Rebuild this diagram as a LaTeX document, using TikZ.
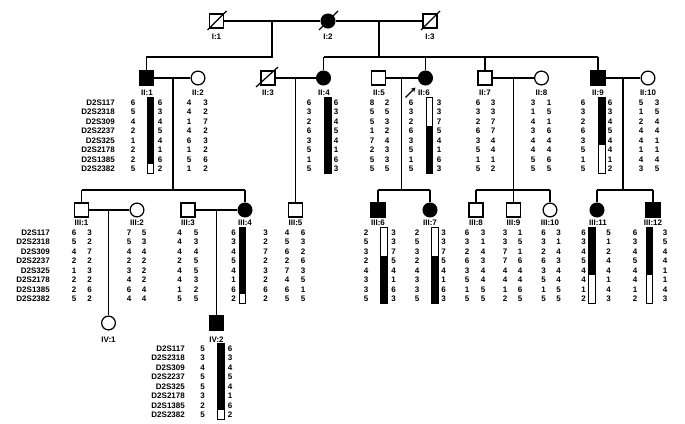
\documentclass[tikz,border=0pt]{standalone}
\usepackage{fontspec}
\setmainfont{Liberation Sans}
\usetikzlibrary{arrows.meta}
\newcommand\numcol[4]{\foreach \v [count=\i from 0] in {#4} {\node[num] at ({#1},{#2+\i*#3}) {\v};}}
\newcommand\markcol[3]{\foreach \v [count=\i from 0] in {D2S117,D2S2318,D2S309,D2S2237,D2S325,D2S2178,D2S1385,D2S2382} {\node[num,anchor=east] at ({#1},{#2+\i*#3}) {\v};}}
% black top / white bottom: x, top, bottom, split
\newcommand\barBW[4]{\fill ({#1-3.2},{#2}) rectangle ({#1+3.2},{#4}); \draw[barline] ({#1-3.2},{#2}) rectangle ({#1+3.2},{#3});}
\newcommand\barWB[4]{\fill ({#1-3.2},{#4}) rectangle ({#1+3.2},{#3}); \draw[barline] ({#1-3.2},{#2}) rectangle ({#1+3.2},{#3});}
\begin{document}
\begin{tikzpicture}[x=1pt,y=-1pt,
  every node/.style={font=\fontsize{8}{9}\selectfont\bfseries},
  sym/.style={draw,line width=1.25pt,minimum size=13.8pt,inner sep=0pt},
  sq/.style={sym,rectangle},
  ci/.style={sym,circle},
  aff/.style={fill=black},
  num/.style={inner sep=0pt},
  lab/.style={inner sep=0pt},
  lnk/.style={line width=1.25pt},
  barline/.style={line width=1pt}]
\useasboundingbox (0,0) rectangle (685,423);

% ---------- Generation I ----------
\node[sq] (I1) at (216.5,21) {};
\node[ci,aff] (I2) at (328,21) {};
\node[sq] (I3) at (430,21) {};
\draw[lnk] (I1) -- (I2);
\draw[lnk] (I2) -- (I3);
\foreach \n in {I1,I2,I3} {\draw[lnk] (\n) ++(-9,9) -- ++(19,-19);}
\node[lab] (lI1) at (216.5,37) {I:1};
\node[lab] (lI2) at (328,37) {I:2};
\node[lab] (lI3) at (430,37) {I:3};

% ---------- Generation II ----------
\node[sq,aff] (II1) at (146.5,78) {};
\node[ci] (II2) at (198,78) {};
\node[sq] (II3) at (268,78) {};
\node[ci,aff] (II4) at (323.5,78) {};
\node[sq] (II5) at (378.5,78) {};
\node[ci,aff] (II6) at (425.5,78) {};
\node[sq] (II7) at (485,78) {};
\node[ci] (II8) at (541.5,78) {};
\node[sq,aff] (II9) at (598,78) {};
\node[ci] (II10) at (648,78) {};
\draw[lnk] (II3) ++(-12,9) -- ++(22,-20);

% descent from generation I
\coordinate (cA) at (272,21);
\coordinate (sA) at (272,57);
\draw[lnk] (cA) -- (sA) -| (II1);
\coordinate (cB) at (379,21);
\coordinate (sB) at (379,57);
\draw[lnk] (cB) -- (sB);
\draw[lnk] (II4 |- sB) -- (II9 |- sB);
\foreach \n in {II4,II6,II7,II9} {\draw[lnk] (\n |- sB) -- (\n);}

% couples II
\draw[lnk] (II1) -- (II2);
\draw[lnk] (II3) -- (II4);
\draw[lnk] (II5) -- (II6);
\draw[lnk] (II7) -- (II8);
\draw[lnk] (II9) -- (II10);

\node[lab] (lII1) at (147,92.7) {II:1};
\node[lab] (lII2) at (198,92.7) {II:2};
\node[lab] (lII3) at (268,92.7) {II:3};
\node[lab] (lII4) at (324,92.7) {II:4};
\node[lab] (lII5) at (379,92.7) {II:5};
\node[lab] (lII6) at (424,92.7) {II:6};
\node[lab] (lII7) at (485,92.7) {II:7};
\node[lab] (lII8) at (541.5,92.7) {II:8};
\node[lab] (lII9) at (598,92.7) {II:9};
\node[lab] (lII10) at (648,92.7) {II:10};

\coordinate (arS) at (405.5,97.5);
\coordinate (arE) at (415.5,87.5);
\draw[lnk,-{Stealth[length=4.5pt,width=5pt]}] (arS) -- (arE);

% haplotypes generation II
\markcol{115}{102.5}{9.5}
\numcol{133}{102.5}{9.5}{6,5,4,2,1,2,2,5}
\barBW{150.5}{97.7}{173}{164.25}
\numcol{160}{102.5}{9.5}{6,3,4,5,4,1,6,2}
\numcol{189}{102.5}{9.5}{4,4,1,4,6,1,5,1}
\numcol{205.5}{102.5}{9.5}{3,2,7,2,3,2,6,2}
\numcol{309}{102.5}{9.5}{6,3,2,6,3,5,1,5}
\barBW{328}{97.7}{173}{173}
\numcol{336}{102.5}{9.5}{6,3,4,5,4,1,6,3}
\numcol{372}{102.5}{9.5}{8,5,5,1,7,2,5,5}
\numcol{387}{102.5}{9.5}{2,5,3,2,4,3,3,5}
\numcol{411}{102.5}{9.5}{6,3,2,6,3,5,1,5}
\barWB{429.7}{97.7}{173}{126.25}
\numcol{439}{102.5}{9.5}{3,3,7,5,4,1,6,3}
\numcol{478}{102.5}{9.5}{6,3,2,6,3,5,1,5}
\numcol{493}{102.5}{9.5}{3,3,7,7,4,4,1,2}
\numcol{533}{102.5}{9.5}{3,1,4,3,4,4,5,5}
\numcol{549}{102.5}{9.5}{1,5,1,6,4,4,6,5}
\numcol{583}{102.5}{9.5}{6,3,2,6,3,5,1,5}
\barBW{602}{97.7}{173}{145.25}
\numcol{610}{102.5}{9.5}{6,3,4,5,4,4,1,2}
\numcol{641}{102.5}{9.5}{5,1,2,4,4,1,4,3}
\numcol{657}{102.5}{9.5}{3,5,4,4,1,1,4,5}

% ---------- Generation III ----------
\node[sq] (III1) at (81.5,210) {};
\node[ci] (III2) at (137,210) {};
\node[sq] (III3) at (188,210) {};
\node[ci,aff] (III4) at (245,210) {};
\node[sq] (III5) at (295.5,210) {};
\node[sq,aff] (III6) at (378,210) {};
\node[ci,aff] (III7) at (430,210) {};
\node[sq] (III8) at (476,210) {};
\node[sq] (III9) at (513.5,210) {};
\node[ci] (III10) at (550,210) {};
\node[ci,aff] (III11) at (597,210) {};
\node[sq,aff] (III12) at (653,210) {};

% descent from generation II
\coordinate (c1) at (173,78);  \coordinate (s1) at (173,190);
\draw[lnk] (c1) -- (s1);
\draw[lnk] (III1 |- s1) -- (III4 |- s1);
\foreach \n in {III1,III4} {\draw[lnk] (\n |- s1) -- (\n);}
\coordinate (c3) at (295.5,78);
\draw[lnk] (c3) -- (III5);
\coordinate (c5) at (401.5,78);  \coordinate (s5) at (401.5,190);
\draw[lnk] (c5) -- (s5);
\draw[lnk] (III6 |- s5) -- (III7 |- s5);
\foreach \n in {III6,III7} {\draw[lnk] (\n |- s5) -- (\n);}
\coordinate (c7) at (513.5,78);  \coordinate (s7) at (513.5,190);
\draw[lnk] (c7) -- (III9);
\draw[lnk] (III8 |- s7) -- (III10 |- s7);
\foreach \n in {III8,III10} {\draw[lnk] (\n |- s7) -- (\n);}
\coordinate (c9) at (623,78);  \coordinate (s9) at (623,190);
\draw[lnk] (c9) -- (s9);
\draw[lnk] (III11 |- s9) -- (III12 |- s9);
\foreach \n in {III11,III12} {\draw[lnk] (\n |- s9) -- (\n);}

% couples III
\draw[lnk] (III1) -- (III2);
\draw[lnk] (III3) -- (III4);

\node[lab] (lIII1) at (81.5,222.7) {III:1};
\node[lab] (lIII2) at (137,222.7) {III:2};
\node[lab] (lIII3) at (188,222.7) {III:3};
\node[lab] (lIII4) at (245,222.7) {III:4};
\node[lab] (lIII5) at (295.5,222.7) {III:5};
\node[lab] (lIII6) at (378,222.7) {III:6};
\node[lab] (lIII7) at (430,222.7) {III:7};
\node[lab] (lIII8) at (476,222.7) {III:8};
\node[lab] (lIII9) at (513.5,222.7) {III:9};
\node[lab] (lIII10) at (550,222.7) {III:10};
\node[lab] (lIII11) at (598,222.7) {III:11};
\node[lab] (lIII12) at (653,222.7) {III:12};

% haplotypes generation III
\markcol{50}{232.5}{9.5}
\numcol{74}{232.5}{9.5}{6,5,4,2,1,2,2,5}
\numcol{89.5}{232.5}{9.5}{3,2,7,2,3,2,6,2}
\numcol{129}{232.5}{9.5}{7,5,4,2,3,4,6,4}
\numcol{144}{232.5}{9.5}{5,3,4,2,2,2,4,4}
\numcol{179.5}{232.5}{9.5}{4,4,4,2,4,4,1,5}
\numcol{196}{232.5}{9.5}{5,3,4,5,5,3,2,5}
\numcol{233.5}{232.5}{9.5}{6,3,4,5,4,1,6,2}
\barBW{242.5}{227.7}{303}{294.25}
\numcol{265.5}{232.5}{9.5}{3,2,7,2,3,2,6,2}
\numcol{287}{232.5}{9.5}{4,5,6,2,7,4,6,5}
\numcol{303}{232.5}{9.5}{6,3,2,6,3,5,1,5}
\numcol{366}{232.5}{9.5}{2,5,3,2,4,3,3,5}
\barWB{384}{227.7}{303}{256.25}
\numcol{393.5}{232.5}{9.5}{3,3,7,5,4,1,6,3}
\numcol{417}{232.5}{9.5}{2,5,3,2,4,3,3,5}
\barWB{435}{227.7}{303}{256.25}
\numcol{443.5}{232.5}{9.5}{3,3,7,5,4,1,6,3}
\numcol{467}{232.5}{9.5}{6,3,2,6,3,5,1,5}
\numcol{483}{232.5}{9.5}{3,1,4,3,4,4,5,5}
\numcol{505}{232.5}{9.5}{3,3,7,7,4,4,1,2}
\numcol{520}{232.5}{9.5}{1,5,1,6,4,4,6,5}
\numcol{543.5}{232.5}{9.5}{6,3,2,6,3,5,1,5}
\numcol{558.5}{232.5}{9.5}{3,1,4,3,4,4,5,5}
\numcol{583.5}{232.5}{9.5}{6,3,4,5,4,4,1,2}
\barBW{592}{227.7}{303}{275.25}
\numcol{608.5}{232.5}{9.5}{5,1,2,4,4,1,4,3}
\numcol{635}{232.5}{9.5}{6,3,4,5,4,4,1,2}
\barBW{649.5}{227.7}{303}{275.25}
\numcol{665}{232.5}{9.5}{3,5,4,4,1,1,4,3}

% ---------- Generation IV ----------
\node[ci] (IV1) at (108.5,323) {};
\node[sq,aff] (IV2) at (216.5,323) {};
\coordinate (d1) at (108.5,210);
\draw[lnk] (d1) -- (IV1);
\coordinate (d3) at (216.5,210);
\draw[lnk] (d3) -- (IV2);
\node[lab] (lIV1) at (108.5,340) {IV:1};
\node[lab] (lIV2) at (216.5,340) {IV:2};

\markcol{185}{348.3}{9.55}
\numcol{202.5}{348.3}{9.55}{5,3,4,5,5,3,2,5}
\barBW{221}{343}{419.5}{410.4}
\numcol{230}{348.3}{9.55}{6,3,4,5,4,1,6,2}
\end{tikzpicture}
\end{document}
